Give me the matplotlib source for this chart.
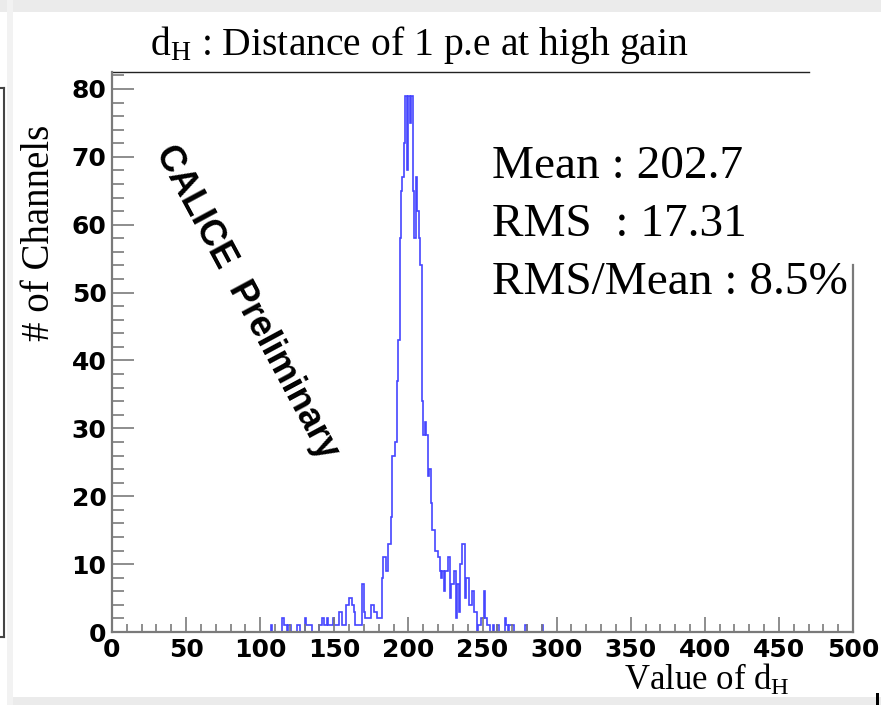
import numpy as np
import matplotlib.pyplot as plt
from matplotlib.patches import Rectangle
from matplotlib.lines import Line2D
from matplotlib.ticker import MultipleLocator

plt.rcParams['mathtext.fontset'] = 'custom'
plt.rcParams['mathtext.rm'] = 'Liberation Serif'
plt.rcParams['mathtext.it'] = 'Liberation Serif:italic'

# histogram of d_H, 1-unit bins starting at 100
bin_start = 100
bin_width = 1
counts = [
    0, 0, 0, 0, 0, 0, 0, 1, 0, 0,        # 100-109
    0, 0, 0, 0, 0, 2, 1, 1, 0, 1,        # 110-119
    1, 0, 0, 0, 0, 1, 1, 0, 0, 0,        # 120-129
    2, 1, 1, 1, 1, 0, 0, 0, 0, 0,        # 130-139
    1, 1, 2, 1, 1, 2, 1, 1, 1, 2,        # 140-149
    1, 1, 1, 3, 3, 1, 1, 1, 4, 4,        # 150-159
    5, 5, 4, 3, 1, 1, 1, 1, 1, 7,        # 160-169
    3, 2, 2, 2, 2, 4, 4, 3, 3, 2,        # 170-179
    2, 2, 8, 11, 11, 9, 13, 13, 17, 26,  # 180-189
    26, 28, 37, 43, 58, 65, 67, 72, 79, 68,  # 190-199
    79, 75, 79, 65, 58, 67, 62, 58, 54, 34,  # 200-209
    29, 31, 29, 23, 24, 19, 15, 15, 12, 12,  # 210-219
    11, 9, 8, 9, 6, 9, 9, 11, 5, 7,      # 220-229
    7, 9, 2, 7, 3, 10, 13, 13, 5, 8,     # 230-239
    8, 4, 4, 6, 3, 3, 0, 1, 1, 2,        # 240-249
    2, 6, 2, 1, 1, 0, 0, 1, 0, 0,        # 250-259
    1, 0, 0, 0, 0, 2, 1, 0, 1, 1,        # 260-269
    1, 0, 0, 0, 0, 0, 0, 0, 0, 1,        # 270-279
    0, 0, 0, 0, 0, 0, 0, 0, 0, 0,        # 280-289
    1, 0, 0, 0, 0, 0, 0, 0, 0, 0,        # 290-299
]

title = r'd$_{\mathrm{H}}$ : Distance of 1 p.e at high gain'
xlabel = r'Value of d$_{\mathrm{H}}$'
ylabel = '# of Channels'
stats = ['Mean : 202.7', 'RMS  : 17.31', 'RMS/Mean : 8.5%']
watermark = 'CALICE  Preliminary'

W, H = 881, 705
fig = plt.figure(figsize=(W / 100, H / 100), dpi=100)
fig.patch.set_facecolor('white')

# screenshot border bits
gray = '#ebebeb'
fig.add_artist(Rectangle((0, 1 - 12 / H), 1, 12 / H, transform=fig.transFigure, color=gray, lw=0))
fig.add_artist(Rectangle((12 / W, 0), 1, 8 / H, transform=fig.transFigure, color=gray, lw=0))
fig.add_artist(Rectangle((7 / W, 0), 6 / W, 1, transform=fig.transFigure, color='#f2f2f2', lw=0))
fig.add_artist(Line2D([3.5 / W, 3.5 / W], [1 - 88 / H, 1 - 637 / H], transform=fig.transFigure,
                      color='#444444', lw=1.5))
fig.add_artist(Line2D([0, 3.5 / W], [1 - 88 / H, 1 - 88 / H], transform=fig.transFigure,
                      color='#444444', lw=1.5))
fig.add_artist(Line2D([0, 3.5 / W], [1 - 637 / H, 1 - 637 / H], transform=fig.transFigure,
                      color='#444444', lw=1.5))
fig.add_artist(Rectangle((876 / W, 0), 3 / W, 12 / H, transform=fig.transFigure, color='black', lw=0))

ax = fig.add_axes([112 / W, 1 - 632 / H, 741 / W, 560 / H])
edges = bin_start + bin_width * np.arange(len(counts) + 1)
ax.stairs(counts, edges, color='#4646ff', lw=1.2)

ax.set_xlim(0, 500)
ax.set_ylim(0, 82.5)

axis_gray = '#7a7a7a'
for side in ['top', 'right']:
    ax.spines[side].set_visible(False)
for side in ['left', 'bottom']:
    ax.spines[side].set_color(axis_gray)
    ax.spines[side].set_linewidth(1.6)
ax.plot([0, 697 / 741], [1.0, 1.0], transform=ax.transAxes, color='#222222', lw=1.0, clip_on=False)
ax.plot([1, 1], [0, 367 / 560], transform=ax.transAxes, color=axis_gray, lw=1.6, clip_on=False)

ax.xaxis.set_major_locator(MultipleLocator(50))
ax.xaxis.set_minor_locator(MultipleLocator(10))
ax.yaxis.set_major_locator(MultipleLocator(10))
ax.yaxis.set_minor_locator(MultipleLocator(2))
ax.tick_params(axis='x', which='major', direction='in', length=11, width=1.2, color=axis_gray, pad=4)
ax.tick_params(axis='x', which='minor', direction='in', length=5.5, width=1.2, color=axis_gray)
ax.tick_params(axis='y', which='major', direction='in', length=16, width=1.2, color=axis_gray, pad=4)
ax.tick_params(axis='y', which='minor', direction='in', length=8.5, width=1.2, color=axis_gray)
for lab in ax.get_xticklabels() + ax.get_yticklabels():
    lab.set_fontfamily('DejaVu Sans')
    lab.set_fontweight('bold')
    lab.set_fontsize(18)

serif = 'Liberation Serif'
fig.text(419 / W, 1 - 45 / H, title, ha='center', va='center', fontsize=28.5, family=serif)
fig.text(40 / W, 1 - 233 / H, ylabel, ha='center', va='center', rotation=90, fontsize=28, family=serif)
fig.text(790 / W, 1 - 680 / H, xlabel, ha='right', va='center', fontsize=25, family=serif)

for i, s in enumerate(stats):
    fig.text(492 / W, 1 - (167 + 58 * i) / H, s, ha='left', va='center', fontsize=34, family=serif)

fig.text(247 / W, 1 - 302 / H, watermark, ha='center', va='center', rotation=-61.7,
         fontsize=26, family='Liberation Sans', fontweight='bold', rotation_mode='anchor')

fig.savefig('out.png', dpi=100)
